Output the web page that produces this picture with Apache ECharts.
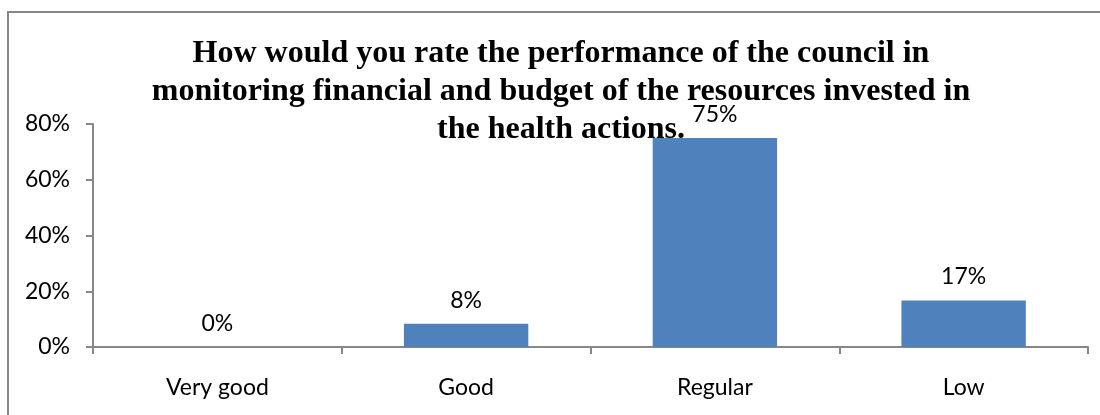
<!DOCTYPE html>
<html>
<head>
<meta charset="utf-8">
<script src="https://cdn.jsdelivr.net/npm/echarts@6/dist/echarts.min.js"></script>
<style>
html,body{margin:0;padding:0;background:#fff;overflow:hidden;}
#frame{position:absolute;left:7px;top:11px;width:1200px;height:600px;border:2px solid #878787;box-sizing:border-box;}
#chart{position:absolute;left:0;top:0;width:1100px;height:415px;}
</style>
</head>
<body>
<div id="frame"></div>
<div id="chart"></div>
<script>
const categories = ['Very good', 'Good', 'Regular', 'Low'];
const values = [0, 8.33, 75, 16.67];
const valueLabels = ['0%', '8%', '75%', '17%'];
const yTicks = [0, 20, 40, 60, 80];
const titleText = 'How would you rate the performance of the council in\nmonitoring financial and budget of the resources invested in\nthe health actions.';

const chart = echarts.init(document.getElementById('chart'));
chart.setOption({
  animation: false,
  backgroundColor: 'transparent',
  title: {
    text: titleText,
    left: 556,
    top: 30,
    textAlign: 'center',
    textStyle: {
      fontFamily: '"Liberation Serif", "Times New Roman", serif',
      fontWeight: 'bold',
      fontSize: 32,
      lineHeight: 38,
      color: '#000'
    }
  },
  grid: { left: 93, right: 12, top: 124, bottom: 68 },
  xAxis: {
    type: 'category',
    data: categories,
    axisLine: { show: true, lineStyle: { color: '#878787', width: 2 } },
    axisTick: { show: true, alignWithLabel: false, length: 7, lineStyle: { color: '#878787', width: 2 } },
    axisLabel: { margin: 29, fontFamily: 'Lato, "Open Sans", sans-serif', fontSize: 23, color: '#000' }
  },
  yAxis: {
    type: 'value',
    min: yTicks[0],
    max: yTicks[yTicks.length - 1],
    interval: 20,
    splitLine: { show: false },
    axisLine: { show: true, lineStyle: { color: '#878787', width: 2 } },
    axisTick: { show: true, length: 7, lineStyle: { color: '#878787', width: 2 } },
    axisLabel: { margin: 23, formatter: '{value}%', fontFamily: 'Lato, "Open Sans", sans-serif', fontSize: 23, color: '#000' }
  },
  series: [{
    type: 'bar',
    data: values,
    barWidth: '50%',
    itemStyle: { color: '#4F81BD' },
    label: {
      show: true,
      position: 'top',
      distance: 12,
      fontFamily: 'Lato, "Open Sans", sans-serif',
      fontSize: 23,
      color: '#000',
      formatter: p => valueLabels[p.dataIndex]
    }
  }]
});
</script>
</body>
</html>
